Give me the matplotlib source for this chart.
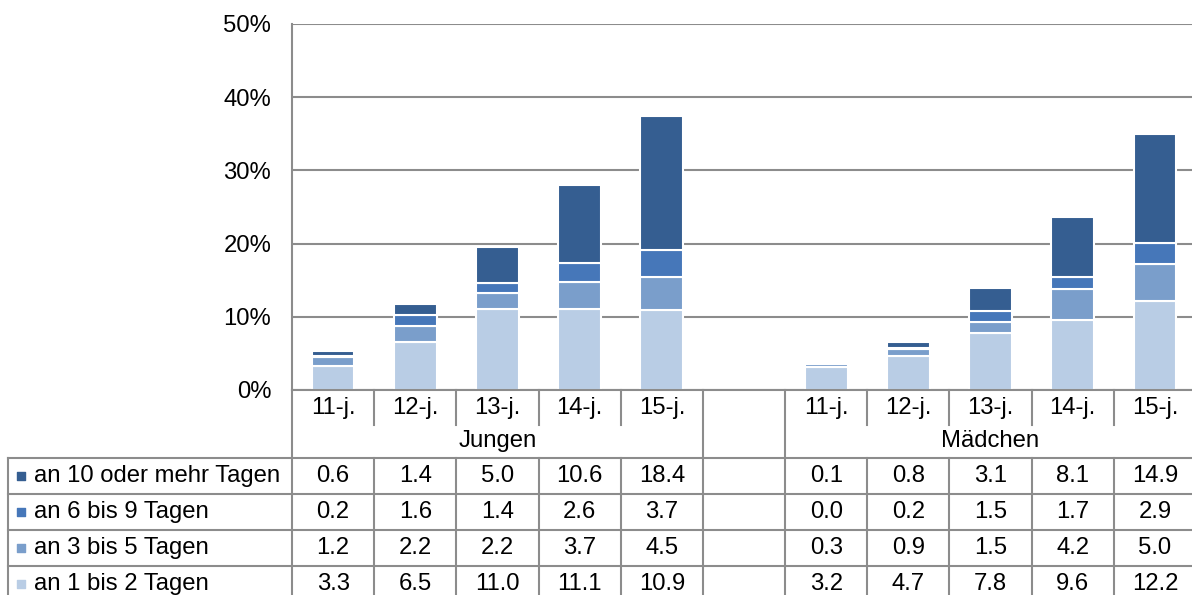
import numpy as np
import matplotlib
matplotlib.use("Agg")
from matplotlib import pyplot as plt

plt.rcParams['font.family'] = ['Liberation Sans', 'DejaVu Sans']

# data (percent)
ages = ["11-j.", "12-j.", "13-j.", "14-j.", "15-j."]
groups = ["Jungen", "Mädchen"]
series = ["an 10 oder mehr Tagen", "an 6 bis 9 Tagen", "an 3 bis 5 Tagen", "an 1 bis 2 Tagen"]
jungen_10 = [0.6, 1.4, 5.0, 10.6, 18.4]
jungen_6 = [0.2, 1.6, 1.4, 2.6, 3.7]
jungen_3 = [1.2, 2.2, 2.2, 3.7, 4.5]
jungen_1 = [3.3, 6.5, 11.0, 11.1, 10.9]
maedchen_10 = [0.1, 0.8, 3.1, 8.1, 14.9]
maedchen_6 = [0.0, 0.2, 1.5, 1.7, 2.9]
maedchen_3 = [0.3, 0.9, 1.5, 4.2, 5.0]
maedchen_1 = [3.2, 4.7, 7.8, 9.6, 12.2]
colors = ["#355e91", "#4677b9", "#7a9ecb", "#b9cde5"]

W, H = 1192, 595
fig = plt.figure(figsize=(W / 100, H / 100), dpi=100)
grey = "#8c8c8c"
fs = 17.2

# slots: 5 Jungen, one empty, 5 Maedchen
pos = np.array([0, 1, 2, 3, 4, 6, 7, 8, 9, 10])
vals = {
    0: jungen_10 + maedchen_10,
    1: jungen_6 + maedchen_6,
    2: jungen_3 + maedchen_3,
    3: jungen_1 + maedchen_1,
}

ax = fig.add_axes([292 / W, (H - 390) / H, 904 / W, 366 / H])
bottom = np.zeros(len(pos))
for k in [3, 2, 1, 0]:
    v = np.array(vals[k])
    keep = v > 0
    ax.bar(pos[keep], v[keep], bottom=bottom[keep], width=0.52, color=colors[k],
           edgecolor="white", linewidth=1.5, zorder=3)
    bottom += v
ax.set_xlim(-0.5, 10.5)
ax.set_ylim(0, 50)
ax.set_yticks(np.arange(0, 51, 10))
ax.set_yticklabels([f"{t}%" for t in range(0, 51, 10)], fontsize=fs)
ax.tick_params(axis="y", length=0, pad=15)
ax.set_xticks([])
ax.yaxis.grid(True, color=grey, linewidth=1.5, zorder=0)
for s in ["top", "right", "bottom"]:
    ax.spines[s].set_visible(False)
ax.spines["left"].set_color(grey)
ax.spines["left"].set_linewidth(1.5)

# table axes below
tab = fig.add_axes([8 / W, 0, (1196 - 8) / W, 205 / H])
slot = 904 / 11
left_x = -0.5 - 284 / slot
tab.set_xlim(left_x, 10.5)
tab.set_ylim(205, 0)
tab.axis("off")
lw = 1.5

# x axis line and category labels
tab.plot([-0.5, 10.5], [0, 0], color=grey, lw=lw, clip_on=False)
for i in range(12):
    b = i - 0.5
    if b in (-0.5, 4.5, 5.5):
        tab.plot([b, b], [0, 205], color=grey, lw=lw, clip_on=False)
    else:
        tab.plot([b, b], [0, 35], color=grey, lw=lw, clip_on=False)
        tab.plot([b, b], [68, 205], color=grey, lw=lw, clip_on=False)
tab.plot([left_x, left_x], [68, 205], color=grey, lw=lw, clip_on=False)
for yy in [68, 104, 140, 176]:
    tab.plot([left_x, 10.5], [yy, yy], color=grey, lw=lw, clip_on=False)

for j, p in enumerate(pos):
    tab.text(p, 18, ages[j % 5], ha="center", va="center", fontsize=fs)
tab.text(2, 51, groups[0], ha="center", va="center", fontsize=fs)
tab.text(8, 51, groups[1], ha="center", va="center", fontsize=fs)

row_y = [86, 122, 158, 194]
for k in range(4):
    y = row_y[k]
    tab.scatter([left_x + 13 / slot], [y], marker="s", s=40, color=colors[k], clip_on=False)
    tab.text(left_x + 26 / slot, y, series[k], ha="left", va="center", fontsize=fs)
    for j, p in enumerate(pos):
        tab.text(p, y, f"{vals[k][j]:.1f}", ha="center", va="center", fontsize=fs)

fig.savefig("out.png", dpi=100)
